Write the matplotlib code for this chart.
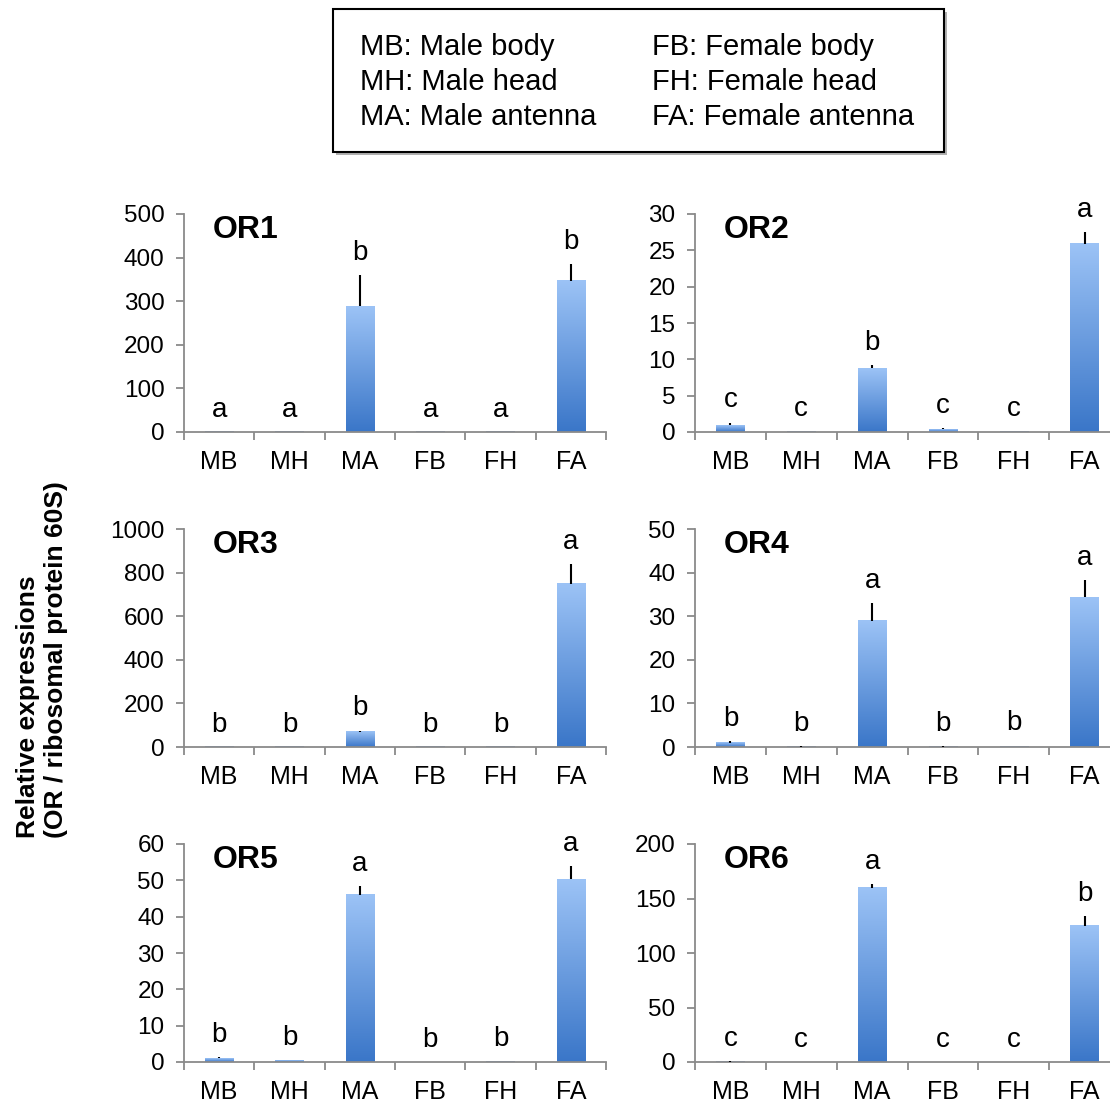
import numpy as np
import matplotlib

matplotlib.use("agg")
import matplotlib.pyplot as plt
from matplotlib.colors import LinearSegmentedColormap
from matplotlib.patches import Rectangle

plt.rcParams['font.family'] = ['Liberation Sans', 'DejaVu Sans']

tissues = ["MB", "MH", "MA", "FB", "FH", "FA"]
legend_left = ["MB: Male body", "MH: Male head", "MA: Male antenna"]
legend_right = ["FB: Female body", "FH: Female head", "FA: Female antenna"]

names = ["OR1", "OR2", "OR3", "OR4", "OR5", "OR6"]
ymax = [500, 30, 1000, 50, 60, 200]
ystep = [100, 5, 200, 10, 10, 50]

means = [
    [0.3, 0.2, 288, 0.2, 0.1, 347],
    [0.9, 0.1, 8.8, 0.4, 0.1, 25.9],
    [0.5, 0.3, 70, 0.3, 0.2, 750],
    [1.0, 0.1, 29, 0.1, 0.2, 34.4],
    [1.0, 0.3, 46, 0.0, 0.2, 50.3],
    [0.3, 0.0, 160, 0.0, 0.0, 125],
]
errs = [
    [0.1, 0.1, 72, 0.1, 0.1, 38],
    [0.4, 0.05, 0.4, 0.15, 0.05, 1.6],
    [0.2, 0.1, 5, 0.1, 0.1, 90],
    [0.3, 0.05, 4.0, 0.05, 0.1, 3.9],
    [0.3, 0.1, 2.5, 0.0, 0.1, 3.7],
    [0.2, 0.0, 3, 0.0, 0.0, 9],
]
letters = [
    ["a", "a", "b", "a", "a", "b"],
    ["c", "c", "b", "c", "c", "a"],
    ["b", "b", "b", "b", "b", "a"],
    ["b", "b", "a", "b", "b", "a"],
    ["b", "b", "a", "b", "b", "a"],
    ["c", "c", "a", "c", "c", "b"],
]

W, H = 1110, 1102
fig = plt.figure(figsize=(W / 100, H / 100), dpi=100)

cols = [(184, 422), (695, 425)]
rows = [432, 747, 1062]
ax_h = 218

bar_cmap = LinearSegmentedColormap.from_list("bar", ["#3a76c8", "#9cc3f6"])
grad = np.linspace(0, 1, 256).reshape(-1, 1)
grey = "#8a8a8a"

for i in range(6):
    left, width = cols[i % 2]
    bottom = rows[i // 2]
    ax = fig.add_axes([left / W, 1 - bottom / H, width / W, ax_h / H])
    x = np.arange(6) + 0.5
    bars = ax.bar(x, means[i], width=0.4, color="none", edgecolor="none")
    for b in bars:
        bx, by = b.get_xy()
        bh = b.get_height()
        if bh <= 0:
            continue
        ax.imshow(grad, cmap=bar_cmap, origin="lower", aspect="auto",
                  extent=[bx, bx + b.get_width(), by, by + bh], zorder=2)
    ax.errorbar(x, means[i], yerr=[np.zeros(6), errs[i]], fmt="none",
                ecolor="black", elinewidth=1.5, capsize=0, zorder=3)
    for xi, m, e, lab in zip(x, means[i], errs[i], letters[i]):
        ax.annotate(lab, (xi, m + e), xytext=(0, 11), textcoords="offset points",
                    ha="center", va="baseline", fontsize=20)
    ax.text(0.068, 0.89, names[i], transform=ax.transAxes, fontsize=23,
            fontweight="bold", va="baseline")

    ax.set_xlim(0, 6)
    ax.set_ylim(0, ymax[i])
    ax.set_yticks(np.arange(0, ymax[i] + 1, ystep[i]))
    ax.set_xticks(np.arange(7))
    ax.set_xticklabels([])
    ax.set_xticks(x, minor=True)
    ax.set_xticklabels(tissues, minor=True)
    ax.tick_params(axis="x", which="major", direction="out", length=6,
                   width=1.3, color=grey)
    ax.tick_params(axis="x", which="minor", length=0, pad=13, labelsize=18)
    ax.tick_params(axis="y", direction="out", length=6, width=1.3, color=grey,
                   pad=8, labelsize=17.5)
    for s in ["top", "right"]:
        ax.spines[s].set_visible(False)
    for s in ["left", "bottom"]:
        ax.spines[s].set_color(grey)
        ax.spines[s].set_linewidth(1.3)
    ax.patch.set_alpha(0)

# legend box
fig.patches.append(Rectangle((336 / W, 1 - 155 / H), 611 / W, 143 / H,
                             transform=fig.transFigure, facecolor="#b0b0b0",
                             edgecolor="none", zorder=0))
fig.patches.append(Rectangle((333 / W, 1 - 152 / H), 611 / W, 143 / H,
                             transform=fig.transFigure, facecolor="white",
                             edgecolor="black", linewidth=1.5, zorder=1))
for k, y in enumerate([47, 82, 117]):
    fig.text(360 / W, 1 - y / H, legend_left[k], fontsize=21, va="center", zorder=2)
    fig.text(652 / W, 1 - y / H, legend_right[k], fontsize=21, va="center", zorder=2)

fig.text(42 / W, 1 - 660 / H, "Relative expressions\n(OR / ribosomal protein 60S)",
         rotation=90, ha="center", va="center", multialignment="left",
         fontsize=19, fontweight="bold")

fig.savefig("out.png", dpi=100)
